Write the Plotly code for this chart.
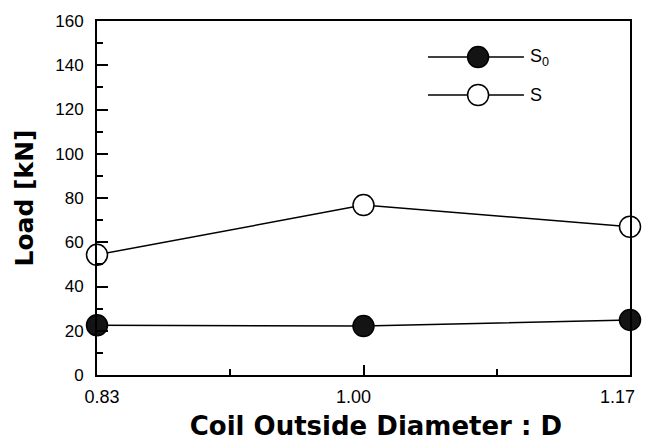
import plotly.graph_objects as go

diameters = [0.83, 1.00, 1.17]
s0_load = [22.5, 22.1, 24.9]
s_load = [54.3, 76.8, 67.0]
series_names = ["S<sub>0</sub>", "S"]
x_tick_labels = ["0.83", "1.00", "1.17"]
marker_fill = ["#141414", "white"]

# small label offsets seen in the reference (leading / trailing padding, in spaces)
pad_left = [2, 0, 0]
pad_right = [0, 4, 5]
nb = "&nbsp;"
x_tick_text = [nb * l + t + nb * r for t, l, r in zip(x_tick_labels, pad_left, pad_right)]

fig = go.Figure()
for vals, name, fill in zip([s0_load, s_load], series_names, marker_fill):
    fig.add_trace(go.Scatter(
        x=diameters, y=vals, name=name, mode="lines+markers",
        line=dict(color="black", width=1.5),
        marker=dict(size=21, color=fill, line=dict(color="black", width=1.5)),
        cliponaxis=False, showlegend=False))

# Hand-drawn legend keys (long line with centred marker), as in the reference
shapes = []
annotations = []
leg_x0, leg_x1, leg_xm = 0.621, 0.801, 0.715
leg_rows = [0.898, 0.791]
rx, ry = 10.5 / 533, 10.5 / 354
for yy, name, fill in zip(leg_rows, series_names, marker_fill):
    shapes.append(dict(type="line", xref="paper", yref="paper",
                       x0=leg_x0, x1=leg_x1, y0=yy, y1=yy,
                       line=dict(color="black", width=1.5)))
    shapes.append(dict(type="circle", xref="paper", yref="paper",
                       x0=leg_xm - rx, x1=leg_xm + rx, y0=yy - ry, y1=yy + ry,
                       fillcolor=fill, line=dict(color="black", width=1.5)))
    annotations.append(dict(xref="paper", yref="paper", x=leg_x1 + 0.008, y=yy,
                            xanchor="left", yanchor="middle", text=name,
                            showarrow=False, font=dict(size=18)))

# The page body adds an 8px margin, so the figure is sized to fit the window.
fig.update_layout(
    width=643, height=433,
    margin=dict(l=89, r=21, t=13, b=66),
    paper_bgcolor="white", plot_bgcolor="white",
    font=dict(family="Liberation Sans, Arial, sans-serif", size=17, color="black"),
    showlegend=False,
    shapes=shapes, annotations=annotations,
)
fig.update_xaxes(
    range=[0.83, 1.17], tickvals=diameters, ticktext=x_tick_text,
    tickfont=dict(size=18), ticklabeloverflow="allow",
    showline=True, linecolor="black", linewidth=2, mirror=True,
    ticks="inside", ticklen=10, tickwidth=2, tickcolor="black",
    minor=dict(tickvals=[0.915, 1.085], ticks="inside", ticklen=6, tickwidth=2, tickcolor="black"),
    showgrid=False, zeroline=False, ticklabelstandoff=4, automargin=False,
    title=dict(text=nb * 3 + "<b>Coil Outside Diameter : D</b>",
               font=dict(family="DejaVu Sans, sans-serif", size=26), standoff=11),
)
fig.update_yaxes(
    range=[0, 160], dtick=20,
    showline=True, linecolor="black", linewidth=2, mirror=True,
    ticks="inside", ticklen=11, tickwidth=2, tickcolor="black",
    minor=dict(dtick=10, ticks="inside", ticklen=6, tickwidth=2, tickcolor="black"),
    showgrid=False, zeroline=False, ticklabelstandoff=8, automargin=False,
    title=dict(text="<b>Load [kN]</b>",
               font=dict(family="DejaVu Sans, sans-serif", size=25), standoff=14),
)

fig.write_html("out.html")
